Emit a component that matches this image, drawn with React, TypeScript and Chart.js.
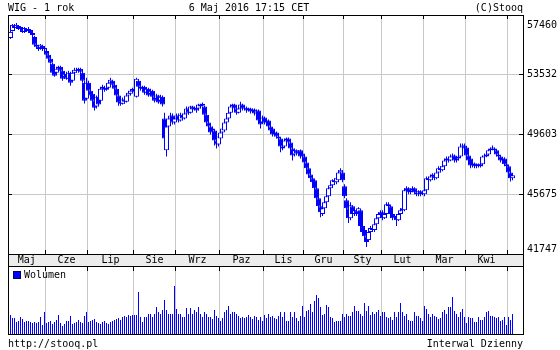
import React, { useEffect, useRef } from 'react';
import { Chart, registerables } from 'chart.js';

Chart.register(...registerables);

// ---- categories / ticks ----
const monthLabels = ['Maj', 'Cze', 'Lip', 'Sie', 'Wrz', 'Paz', 'Lis', 'Gru', 'Sty', 'Lut', 'Mar', 'Kwi'];
const monthDays = [18, 21, 23, 21, 22, 22, 20, 20, 19, 21, 21, 21, 3];
const priceTicks = [41747, 45675, 49603, 53532, 57460];

// ---- daily WIG OHLC (May 2015 .. May 2016) ----
const openV = [
  55950, 56410, 56740, 56610, 56740, 56540, 56610, 56350, 56540, 56410, 56480, 56280, 56020, 55500, 55370, 55300, 55430, 55230,
  55100, 54840, 54580, 54250, 53790, 53660, 53920, 54060, 53790, 53400, 53600, 53270, 53660, 53140, 53660, 53860, 53790, 53920, 53660, 53010, 51960,
  53010, 52480, 52290, 51830, 51440, 52090, 51830, 52610, 52680, 52550, 52680, 53010, 53140, 52880, 52610, 52160, 51760, 51630, 51900, 51760, 52160, 52290, 52480,
  52550, 52090, 53140, 52750, 52610, 52750, 52350, 52610, 52290, 52480, 52090, 51960, 52160, 51830, 52090, 50650, 48560, 50130, 50650, 50850, 50390,
  50650, 50850, 50520, 50910, 50650, 50980, 51310, 51040, 51440, 51240, 51370, 51310, 51570, 51500, 51440, 50910, 50390, 50130, 49860, 49860, 49210, 48950,
  49340, 49730, 49860, 50390, 50650, 51040, 51440, 51570, 51310, 51040, 51310, 51570, 51310, 51370, 51180, 51310, 51110, 51240, 50980, 51180, 50650, 50390,
  50720, 50390, 50520, 50130, 49990, 49600, 49730, 49470, 49340, 48820, 48820, 49210, 49340, 49080, 48690, 48290, 48560, 48360, 48560, 48360,
  48160, 47770, 47380, 46980, 46720, 46590, 46070, 45410, 44890, 44370, 44760, 45150, 45540, 46070, 46260, 46590, 46460, 46590, 47110, 47110,
  46200, 45280, 44760, 44100, 44890, 44370, 44630, 44500, 44630, 43580, 43320, 42920, 42660, 43190, 43450, 43320, 43710, 44100, 44370,
  44500, 44100, 44370, 45020, 44890, 44370, 44100, 44240, 43970, 44370, 44630, 44630, 45940, 46070, 45810, 45940, 46070, 45810, 45680, 45870, 45680,
  45680, 45940, 46720, 46590, 46850, 46920, 46720, 47110, 47380, 47250, 47510, 47900, 48030, 47900, 48160, 48230, 47900, 48030, 48160, 48820, 48880,
  48750, 48230, 48030, 47570, 47700, 47510, 47640, 47510, 47640, 48160, 48160, 48290, 48560, 48690, 48690, 48560, 48290, 48160, 47900, 48030, 47640,
  47510, 47110, 46720,
];
const highV = [
  56480, 56870, 56870, 56940, 56810, 56740, 56670, 56670, 56610, 56670, 56540, 56410, 56090, 55630, 55500, 55560, 55500, 55430,
  55230, 54970, 54710, 54320, 53920, 54060, 54120, 54120, 53920, 53660, 53730, 53790, 53730, 53790, 53990, 53990, 53990, 53990, 53790, 53140, 53340,
  53140, 52610, 52350, 51960, 52160, 52220, 52750, 52880, 52810, 52810, 53140, 53340, 53200, 53010, 52680, 52290, 51900, 52030, 52030, 52290, 52480, 52550, 52680,
  52680, 53340, 53200, 52880, 52810, 52810, 52680, 52680, 52610, 52550, 52220, 52290, 52220, 52220, 52160, 51040, 50260, 50780, 51040, 50980, 50780,
  50980, 50980, 51040, 50980, 51110, 51440, 51370, 51500, 51500, 51440, 51440, 51630, 51630, 51700, 51500, 50980, 50520, 50260, 50130, 49930, 49340, 49600,
  49860, 50130, 50520, 50780, 51180, 51570, 51630, 51630, 51370, 51440, 51760, 51630, 51500, 51440, 51370, 51370, 51310, 51310, 51240, 51240, 50720, 50850,
  50780, 50590, 50590, 50190, 50060, 49860, 49800, 49600, 49410, 48950, 49340, 49410, 49410, 49150, 48750, 48690, 48620, 48560, 48620, 48430,
  48230, 47900, 47440, 47110, 46850, 46660, 46130, 45540, 45020, 44890, 45280, 45680, 46200, 46400, 46660, 46720, 46790, 47250, 47380, 47250,
  46330, 45410, 44890, 45150, 44960, 44760, 44690, 44820, 44690, 43710, 43450, 43060, 43320, 43580, 43580, 43840, 44240, 44500, 44630,
  44630, 44500, 45150, 45150, 44960, 44500, 44370, 44370, 44500, 44760, 44890, 46070, 46200, 46130, 46000, 46200, 46130, 45940, 45940, 45940, 45870,
  46070, 46850, 46850, 46980, 47050, 46980, 47250, 47510, 47510, 47570, 48030, 48160, 48160, 48290, 48360, 48290, 48100, 48230, 49010, 49010, 49010,
  48820, 48360, 48100, 47840, 47770, 47700, 47700, 47770, 48230, 48360, 48430, 48620, 48750, 48880, 48750, 48620, 48360, 48230, 48100, 48100, 47770,
  47570, 47250, 46980,
];
const lowV = [
  55890, 56370, 56540, 56540, 56480, 56410, 56280, 56280, 56350, 56350, 56150, 56020, 55370, 55230, 55100, 55170, 55100, 55100,
  54780, 54510, 54250, 53600, 53400, 53600, 53790, 53660, 53140, 53270, 53200, 53140, 52810, 53070, 53600, 53660, 53660, 53600, 53010, 51640, 51890,
  52420, 52030, 51690, 51180, 51310, 51440, 51690, 52480, 52420, 52480, 52610, 52880, 52750, 52480, 52030, 51500, 51500, 51570, 51630, 51700, 52030, 52160, 52350,
  52290, 52030, 52610, 52480, 52480, 52220, 52290, 52090, 52220, 51960, 51700, 51890, 51630, 51760, 51440, 49010, 48160, 49990, 50520, 50260, 50260,
  50520, 50390, 50460, 50520, 50590, 50910, 50910, 50980, 51110, 51180, 51040, 51180, 51310, 51440, 50780, 50260, 49990, 49600, 49670, 48880, 48690, 48820,
  49210, 49600, 49800, 50260, 50590, 50980, 51310, 51180, 50910, 50980, 51240, 51180, 51180, 51040, 51110, 50980, 51040, 50850, 50850, 50390, 49990, 50320,
  50260, 50260, 49990, 49730, 49470, 49470, 49340, 49210, 48430, 48560, 48750, 49080, 48950, 48560, 47900, 48160, 48230, 48230, 48030, 48030,
  47700, 47250, 46850, 46590, 46330, 45940, 45280, 44760, 44170, 44240, 44630, 45020, 45410, 45940, 46130, 46330, 46330, 46460, 46980, 46460,
  45410, 44630, 43780, 43970, 44240, 44240, 44240, 44370, 43450, 43060, 42790, 42210, 42530, 43060, 43190, 43190, 43580, 43970, 44240,
  43970, 44040, 44240, 44760, 44240, 43970, 44040, 43580, 43910, 44240, 44500, 44560, 45810, 45680, 45680, 45810, 45680, 45540, 45540, 45540, 45610,
  45540, 45810, 46460, 46520, 46720, 46590, 46660, 47050, 47110, 47180, 47440, 47770, 47770, 47840, 48030, 47770, 47770, 47900, 48100, 48690, 48560,
  48100, 47770, 47380, 47440, 47380, 47380, 47440, 47440, 47510, 48030, 48100, 48230, 48490, 48560, 48430, 48160, 48030, 47770, 47700, 47510, 47380,
  46980, 46520, 46590,
];
const closeV = [
  56350, 56810, 56610, 56810, 56540, 56670, 56350, 56610, 56410, 56540, 56280, 56150, 55500, 55370, 55230, 55500, 55230, 55300,
  54840, 54580, 54320, 53660, 53470, 53920, 54060, 53790, 53270, 53600, 53270, 53660, 53010, 53660, 53860, 53790, 53920, 53730, 53140, 51830, 53010,
  52480, 52160, 51830, 51370, 52090, 51570, 52610, 52750, 52550, 52680, 53010, 53200, 52880, 52610, 52160, 51700, 51630, 51900, 51760, 52160, 52350, 52480, 52610,
  52420, 53270, 52750, 52610, 52750, 52350, 52610, 52160, 52480, 52090, 51830, 52160, 51700, 52090, 51570, 49340, 50130, 50650, 50850, 50390, 50650,
  50850, 50520, 50910, 50650, 50980, 51310, 51040, 51440, 51240, 51370, 51180, 51570, 51440, 51630, 50910, 50390, 50130, 49730, 49990, 49210, 48950, 49470,
  49730, 49990, 50390, 50650, 51040, 51440, 51570, 51310, 51040, 51310, 51570, 51310, 51370, 51180, 51310, 51110, 51240, 50980, 51180, 50520, 50260, 50720,
  50390, 50520, 50130, 49860, 49600, 49730, 49470, 49340, 48820, 48690, 49210, 49340, 49080, 48690, 48230, 48560, 48360, 48430, 48160, 48160,
  47770, 47380, 46980, 46720, 46460, 46070, 45410, 44890, 44500, 44760, 45150, 45540, 46070, 46260, 46590, 46460, 46720, 47110, 47250, 46590,
  45540, 44760, 44100, 44960, 44370, 44630, 44370, 44760, 43580, 43190, 42920, 42530, 43190, 43450, 43320, 43710, 44100, 44370, 44500,
  44100, 44370, 45020, 44890, 44370, 44100, 44240, 43970, 44370, 44630, 44760, 45940, 46070, 45810, 45940, 46070, 45810, 45680, 45870, 45680, 45810,
  45940, 46720, 46590, 46850, 46980, 46720, 47110, 47380, 47250, 47510, 47900, 48030, 47900, 48160, 48230, 47900, 48030, 48160, 48820, 48880, 48690,
  48230, 47900, 47570, 47700, 47510, 47640, 47510, 47640, 48160, 48230, 48290, 48560, 48690, 48750, 48560, 48290, 48160, 47900, 48030, 47640, 47510,
  47110, 46720, 46920,
];
// ---- daily turnover (Wolumen) ----
const volumeV = [
  950, 800, 800, 600, 650, 850, 750, 600, 650, 650, 600, 550, 600, 550, 600, 850, 450, 1100,
  550, 600, 650, 500, 600, 700, 950, 550, 400, 500, 650, 650, 900, 500, 550, 600, 700, 600, 550, 900, 1100,
  600, 650, 700, 750, 600, 550, 500, 600, 650, 550, 500, 600, 650, 700, 750, 800, 700, 850, 900, 850, 950, 900, 950,
  950, 950, 2100, 850, 600, 850, 850, 1000, 1000, 850, 1000, 1350, 1100, 1000, 1200, 1700, 1200, 1000, 1000, 1000, 2400,
  1250, 1000, 1000, 850, 850, 1300, 1000, 1300, 1000, 1200, 1100, 1350, 1000, 850, 1100, 1000, 850, 850, 750, 1200, 900, 800,
  650, 800, 1100, 1200, 1400, 1000, 1100, 1100, 1000, 900, 800, 850, 800, 850, 950, 850, 750, 900, 850, 700, 850, 650,
  950, 800, 1000, 850, 900, 800, 750, 900, 1100, 850, 1100, 650, 650, 1100, 850, 1100, 800, 650, 900, 1400,
  850, 1150, 1200, 1500, 1100, 1650, 1950, 1800, 1350, 950, 1000, 1450, 1350, 850, 800, 600, 650, 650, 650, 1000,
  850, 1000, 900, 900, 1100, 1400, 1150, 1150, 1000, 900, 1550, 1150, 1400, 950, 1100, 1000, 1100, 1200, 900,
  1100, 1100, 850, 800, 850, 700, 1100, 850, 1100, 1550, 1100, 900, 1000, 700, 650, 650, 1100, 900, 900, 800, 650,
  1400, 1250, 1000, 850, 1000, 900, 850, 750, 800, 1100, 1200, 1000, 1350, 1350, 1850, 1150, 1000, 850, 1100, 1250, 850,
  550, 850, 800, 800, 600, 600, 850, 700, 700, 850, 1100, 1150, 900, 900, 850, 800, 850, 650, 700, 850, 450,
  850, 700, 1000,
];
const volumeMax = 4000;

const BLUE = '#0000ff';
const GRID = '#c8c8c8';
const FONT = '10px "DejaVu Sans Mono", monospace';

export default function App() {
  const ref = useRef<HTMLCanvasElement>(null);

  useEffect(() => {
    const canvas = ref.current;
    if (!canvas) return;
    const n = closeV.length;

    const bounds: number[] = [];
    let acc = 0;
    monthDays.forEach((d) => {
      acc += d;
      bounds.push(acc - 0.5);
    });
    bounds.pop();

    const pMin = priceTicks[0];
    const pMax = priceTicks[priceTicks.length - 1];

    const wickData = closeV.map((_, i) => ({ x: i, y: [lowV[i], highV[i]] }));
    const bodyData = closeV.map((c, i) => ({ x: i, y: [openV[i], c] }));
    const bodyBg = closeV.map((c, i) => (c >= openV[i] ? '#ffffff' : BLUE));
    const volData = volumeV.map((v, i) => ({ x: i, y: v }));

    const decor = {
      id: 'stooqDecor',
      afterDraw(chart: any) {
        const ctx = chart.ctx as CanvasRenderingContext2D;
        const area = chart.chartArea;
        const xs = chart.scales.x;
        const ys = chart.scales.y;
        const L = area.left, R = area.right, T = area.top, B = area.bottom;
        const bandTop = Math.round(ys.bottom);
        const bandBot = bandTop + 12;
        ctx.save();

        // month band
        ctx.fillStyle = '#ececec';
        ctx.fillRect(L, bandTop, R - L, bandBot - bandTop);

        ctx.strokeStyle = '#000';
        ctx.lineWidth = 1;
        ctx.beginPath();
        ctx.moveTo(L, bandTop + 0.5); ctx.lineTo(R, bandTop + 0.5);
        ctx.moveTo(L, bandBot + 0.5); ctx.lineTo(R, bandBot + 0.5);
        ctx.stroke();

        // dark tick marks at month boundaries
        const bx = bounds.map((b) => Math.round(xs.getPixelForValue(b) - 0.5) + 0.5);
        ctx.beginPath();
        bx.forEach((x) => {
          ctx.moveTo(x, T); ctx.lineTo(x, T + 4);
          ctx.moveTo(x, bandTop - 4); ctx.lineTo(x, bandTop);
          ctx.moveTo(x, bandBot); ctx.lineTo(x, bandBot + 5);
        });
        // ticks at price gridlines
        priceTicks.slice(1, -1).forEach((v) => {
          const y = Math.round(ys.getPixelForValue(v) - 0.5) + 0.5;
          ctx.moveTo(L, y); ctx.lineTo(L + 4, y);
          ctx.moveTo(R - 4, y); ctx.lineTo(R, y);
        });
        ctx.stroke();

        // frame
        ctx.strokeRect(L + 0.5, T + 0.5, R - L, B - T);

        // month labels
        ctx.fillStyle = '#000';
        ctx.font = FONT;
        ctx.textAlign = 'center';
        ctx.textBaseline = 'middle';
        monthLabels.forEach((m, k) => {
          const a = k === 0 ? L : xs.getPixelForValue(bounds[k - 1]);
          const b = xs.getPixelForValue(bounds[k]);
          ctx.fillText(m, (a + b) / 2, (bandTop + bandBot) / 2 + 0.5);
        });

        // price labels
        ctx.textAlign = 'left';
        priceTicks.forEach((v, k) => {
          let y = ys.getPixelForValue(v);
          if (k === priceTicks.length - 1) y += 10;
          if (k === 0) y -= 5;
          ctx.fillText(String(v), R + 4, y);
        });

        // title row
        ctx.textAlign = 'left';
        ctx.fillText('WIG - 1 rok', L, 8);
        ctx.textAlign = 'center';
        ctx.fillText('6 Maj 2016 17:15 CET', 249, 8);
        ctx.textAlign = 'right';
        ctx.fillText('(C)Stooq', R, 8);

        // volume legend
        ctx.fillStyle = BLUE;
        ctx.fillRect(14, bandBot + 6, 6, 6);
        ctx.strokeStyle = '#000060';
        ctx.strokeRect(13.5, bandBot + 5.5, 7, 7);
        ctx.fillStyle = '#000';
        ctx.textAlign = 'left';
        ctx.fillText('Wolumen', 24, bandBot + 9.5);

        // footer
        ctx.fillText('http://stooq.pl', L, 344);
        ctx.textAlign = 'right';
        ctx.fillText('Interwal Dzienny', R, 344);
        ctx.restore();
      },
    };

    const chart = new Chart(canvas, {
      type: 'bar',
      data: {
        datasets: [
          {
            label: 'body',
            data: bodyData as any,
            xAxisID: 'x',
            yAxisID: 'y',
            grouped: false,
            barThickness: 5,
            backgroundColor: bodyBg,
            borderColor: BLUE,
            borderWidth: 1,
            borderSkipped: false,
            inflateAmount: 0,
            order: 0,
          } as any,
          {
            label: 'wick',
            data: wickData as any,
            xAxisID: 'x',
            yAxisID: 'y',
            grouped: false,
            barThickness: 1,
            backgroundColor: BLUE,
            borderWidth: 0,
            inflateAmount: 0,
            order: 1,
          } as any,
          {
            label: 'Wolumen',
            data: volData as any,
            xAxisID: 'x',
            yAxisID: 'yv',
            grouped: false,
            barThickness: 1,
            backgroundColor: BLUE,
            borderWidth: 0,
            inflateAmount: 0,
            order: 2,
          } as any,
        ],
      },
      options: {
        responsive: false,
        maintainAspectRatio: false,
        devicePixelRatio: 1,
        animation: false,
        events: [],
        layout: { padding: { left: 8, right: 37, top: 15, bottom: 16 } },
        plugins: { legend: { display: false }, tooltip: { enabled: false }, title: { display: false } },
        scales: {
          x: {
            type: 'linear',
            position: 'bottom',
            offset: false,
            min: -1.25,
            max: n + 4.25,
            afterBuildTicks: (s: any) => {
              s.ticks = bounds.map((v) => ({ value: v }));
            },
            ticks: { display: false },
            grid: { color: GRID, lineWidth: 1, drawTicks: false, offset: false },
            border: { display: false },
          },
          y: {
            type: 'linear',
            position: 'right',
            stack: 'panes',
            stackWeight: 239,
            min: pMin,
            max: pMax,
            afterBuildTicks: (s: any) => {
              s.ticks = priceTicks.map((v) => ({ value: v }));
            },
            ticks: { display: false },
            grid: {
              drawTicks: false,
              lineWidth: 1,
              color: (c: any) =>
                c.tick && (c.tick.value === pMin || c.tick.value === pMax) ? 'rgba(0,0,0,0)' : GRID,
            },
            border: { display: false },
          },
          yv: {
            type: 'linear',
            position: 'right',
            stack: 'panes',
            stackWeight: 80,
            min: 0,
            max: volumeMax,
            display: false,
          },
        } as any,
      },
      plugins: [decor],
    });

    return () => chart.destroy();
  }, []);

  return (
    <div style={{ position: 'fixed', left: 0, top: 0, width: 560, height: 350, background: '#fff' }}>
      <canvas ref={ref} width={560} height={350} style={{ display: 'block', width: 560, height: 350 }} />
    </div>
  );
}
